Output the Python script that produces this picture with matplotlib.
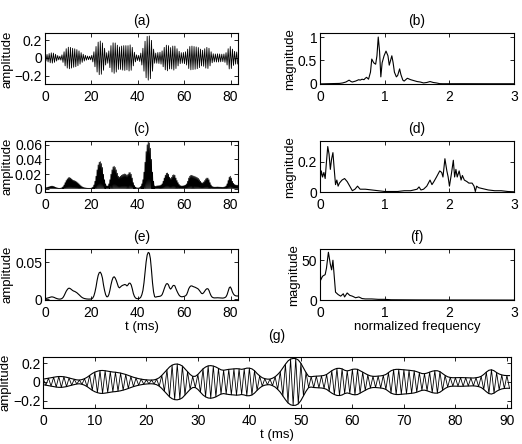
import numpy as np
import matplotlib
matplotlib.use('Agg')
import matplotlib.pyplot as plt

plt.rcParams['font.family'] = ['Liberation Sans', 'DejaVu Sans']
plt.rcParams['xtick.direction'] = 'in'
plt.rcParams['ytick.direction'] = 'in'
plt.rcParams['xtick.top'] = True
plt.rcParams['ytick.right'] = True
plt.rcParams['xtick.major.size'] = 3
plt.rcParams['ytick.major.size'] = 3
plt.rcParams['axes.linewidth'] = 0.8

# envelope of the signal, read from (g), one value every 0.5 ms (0 .. 90.5 ms)
env = [0.03, 0.035, 0.04, 0.045, 0.05, 0.055, 0.058, 0.058, 0.055, 0.05,
       0.042, 0.035, 0.028, 0.022, 0.02, 0.025, 0.035, 0.05, 0.07, 0.09,
       0.105, 0.115, 0.122, 0.123, 0.12, 0.115, 0.11, 0.106, 0.104, 0.1,
       0.095, 0.088, 0.08, 0.07, 0.06, 0.05, 0.042, 0.035, 0.03, 0.025,
       0.022, 0.02, 0.02, 0.022, 0.03, 0.045, 0.07, 0.1, 0.13, 0.16,
       0.18, 0.19, 0.192, 0.185, 0.17, 0.14, 0.11, 0.08, 0.06, 0.06,
       0.08, 0.11, 0.14, 0.16, 0.172, 0.175, 0.17, 0.16, 0.145, 0.13,
       0.125, 0.13, 0.135, 0.138, 0.14, 0.142, 0.14, 0.135, 0.14, 0.148,
       0.148, 0.14, 0.12, 0.09, 0.065, 0.045, 0.035, 0.03, 0.03, 0.04,
       0.055, 0.08, 0.11, 0.15, 0.19, 0.225, 0.245, 0.252, 0.25, 0.235,
       0.2, 0.15, 0.1, 0.06, 0.055, 0.06, 0.062, 0.063, 0.065, 0.07,
       0.08, 0.1, 0.12, 0.135, 0.145, 0.146, 0.14, 0.125, 0.118, 0.125,
       0.135, 0.138, 0.135, 0.12, 0.105, 0.09, 0.075, 0.065, 0.06, 0.06,
       0.062, 0.065, 0.07, 0.08, 0.1, 0.12, 0.13, 0.135, 0.135, 0.132,
       0.13, 0.128, 0.125, 0.122, 0.118, 0.11, 0.1, 0.09, 0.088, 0.095,
       0.105, 0.115, 0.12, 0.12, 0.11, 0.09, 0.07, 0.055, 0.048, 0.045,
       0.045, 0.046, 0.047, 0.046, 0.045, 0.044, 0.043, 0.042, 0.045, 0.05,
       0.06, 0.08, 0.105, 0.125, 0.13, 0.12, 0.1, 0.085, 0.075, 0.07,
       0.068, 0.068]

# half period of the carrier: 0.5 ms in (g); panels a/c/e use a shorter time unit
half_g = 0.5
half_left = 0.459

# spectrum of the signal (b)
fb = [0, 0.3, 0.35, 0.4, 0.45, 0.48, 0.5, 0.55, 0.6, 0.62, 0.65, 0.68, 0.7, 0.72,
      0.75, 0.78, 0.8, 0.83, 0.86, 0.88, 0.9, 0.92, 0.94, 0.96, 0.99, 1.02, 1.05,
      1.07, 1.09, 1.11, 1.13, 1.15, 1.18, 1.2, 1.23, 1.25, 1.28, 1.3, 1.35, 1.4,
      1.45, 1.5, 1.55, 1.6, 1.65, 1.7, 1.75, 1.8, 1.85, 1.9, 2.2, 2.6, 3.0]
mb = [0, 0.01, 0.02, 0.04, 0.08, 0.05, 0.04, 0.06, 0.09, 0.08, 0.1, 0.09, 0.12, 0.14,
      0.1, 0.25, 0.53, 0.45, 0.42, 0.6, 1.0, 0.7, 0.15, 0.45, 0.6, 0.7, 0.6,
      0.4, 0.5, 0.6, 0.45, 0.25, 0.15, 0.18, 0.32, 0.2, 0.08, 0.06, 0.12, 0.09,
      0.07, 0.05, 0.04, 0.02, 0.03, 0.05, 0.03, 0.02, 0.005, 0.003, 0.004, 0.003, 0.003]

# spectrum of the squared signal (d)
fd = [0, 0.02, 0.04, 0.06, 0.08, 0.1, 0.12, 0.14, 0.16, 0.18, 0.2, 0.22, 0.24, 0.26,
      0.28, 0.3, 0.34, 0.38, 0.42, 0.46, 0.5, 0.54, 0.58, 0.62, 0.7, 0.8, 0.9, 1.0,
      1.1, 1.2, 1.3, 1.4, 1.5, 1.53, 1.56, 1.6, 1.65, 1.7, 1.73, 1.76, 1.8, 1.85,
      1.88, 1.9, 1.93, 1.96, 1.98, 2.0, 2.03, 2.06, 2.08, 2.1, 2.12, 2.15, 2.18,
      2.2, 2.23, 2.27, 2.3, 2.35, 2.38, 2.4, 2.42, 2.45, 2.5, 2.55, 2.6, 2.7, 2.8,
      2.9, 3.0]
md = [0.07, 0.14, 0.1, 0.13, 0.09, 0.2, 0.3, 0.25, 0.15, 0.22, 0.26, 0.15, 0.05, 0.08,
      0.04, 0.06, 0.08, 0.09, 0.07, 0.04, 0.01, 0.02, 0.04, 0.02, 0.02, 0.015, 0.01,
      0.005, 0.005, 0.005, 0.01, 0.01, 0.02, 0.035, 0.015, 0.02, 0.04, 0.08, 0.05,
      0.07, 0.1, 0.14, 0.13, 0.1, 0.22, 0.14, 0.1, 0.04, 0.12, 0.21, 0.1, 0.15, 0.1,
      0.14, 0.08, 0.11, 0.08, 0.07, 0.06, 0.06, 0.04, 0.005, 0.04, 0.03, 0.025, 0.02,
      0.015, 0.01, 0.01, 0.005, 0.003]

# spectrum of the smoothed envelope (f)
ff = [0, 0.005, 0.01, 0.04, 0.08, 0.1, 0.13, 0.16, 0.18, 0.2, 0.22, 0.24, 0.28, 0.32,
      0.36, 0.38, 0.42, 0.46, 0.5, 0.55, 0.6, 0.65, 0.7, 0.8, 0.9, 1.0, 1.1, 1.5,
      2.0, 3.0]
mf = [63, 40, 25, 30, 32, 40, 60, 45, 38, 50, 30, 10, 7, 5, 8, 4, 9, 6, 5, 3, 4, 2,
      1.5, 1.5, 1, 1, 0.5, 0.3, 0.2, 0.1]

env = np.array(env)
n = np.arange(len(env))
t = n * half_g
tl = n * half_left
sign = np.where(n % 2 == 0, 1, -1)
sig = env * sign
# squared signal: peaks at env^2, zero between peaks
tl_sq = np.ravel(np.column_stack([tl, tl + half_left / 2]))
sq = np.ravel(np.column_stack([env ** 2, np.zeros_like(env)]))
smooth = env ** 2

fig = plt.figure(figsize=(5.22, 4.44), dpi=100)
lw = 0.8
fs_t = 10
fs_l = 9.5
fs_title = 10

L = [0.086, 0.613]
W = [0.37, 0.372]
B = [0.81, 0.567, 0.324]
H = 0.115

ax_a = fig.add_axes([L[0], B[0], W[0], H])
ax_b = fig.add_axes([L[1], B[0], W[1], H])
ax_c = fig.add_axes([L[0], B[1], W[0], H])
ax_d = fig.add_axes([L[1], B[1], W[1], H])
ax_e = fig.add_axes([L[0], B[2], W[0], H])
ax_f = fig.add_axes([L[1], B[2], W[1], H])
ax_g = fig.add_axes([0.083, 0.081, 0.896, 0.1155])

ax_a.plot(tl, sig, 'k', lw=0.6)
ax_a.set_ylim(-0.3, 0.28)
ax_a.set_yticks([-0.2, 0, 0.2])
ax_a.set_yticklabels(['\u22120.2', '0', '0.2'])
ax_a.set_ylabel('amplitude', fontsize=fs_l, labelpad=1)
ax_a.set_title('(a)', fontsize=fs_title, pad=6)

ax_c.plot(tl_sq, sq, 'k', lw=0.6)
ax_c.set_ylim(-0.005, 0.065)
ax_c.set_yticks([0, 0.02, 0.04, 0.06])
ax_c.set_yticklabels(['0', '0.02', '0.04', '0.06'])
ax_c.set_ylabel('amplitude', fontsize=fs_l, labelpad=1)
ax_c.set_title('(c)', fontsize=fs_title, pad=6)

ax_e.plot(tl, smooth, 'k', lw=lw)
ax_e.set_ylim(-0.001, 0.068)
ax_e.set_yticks([0, 0.05])
ax_e.set_yticklabels(['0', '0.05'])
ax_e.set_ylabel('amplitude', fontsize=fs_l, labelpad=1)
ax_e.set_xlabel('t (ms)', fontsize=fs_l, labelpad=1)
ax_e.set_title('(e)', fontsize=fs_title, pad=6)

for ax in [ax_a, ax_c, ax_e]:
    ax.set_xlim(0, 83.2)
    ax.set_xticks([0, 20, 40, 60, 80])

ax_b.plot(fb, mb, 'k', lw=lw)
ax_b.set_ylim(-0.01, 1.08)
ax_b.set_yticks([0, 0.5, 1])
ax_b.set_yticklabels(['0', '0.5', '1'])
ax_b.set_ylabel('magnitude', fontsize=fs_l, labelpad=1)
ax_b.set_title('(b)', fontsize=fs_title, pad=6)

ax_d.plot(fd, md, 'k', lw=lw)
ax_d.set_ylim(0, 0.335)
ax_d.set_yticks([0, 0.2])
ax_d.set_yticklabels(['0', '0.2'])
ax_d.set_ylabel('magnitude', fontsize=fs_l, labelpad=1)
ax_d.set_title('(d)', fontsize=fs_title, pad=6)

ax_f.plot(ff, mf, 'k', lw=lw)
ax_f.set_ylim(0, 64)
ax_f.set_yticks([0, 50])
ax_f.set_ylabel('magnitude', fontsize=fs_l, labelpad=1)
ax_f.set_xlabel('normalized frequency', fontsize=fs_l, labelpad=1)
ax_f.set_title('(f)', fontsize=fs_title, pad=6)

for ax in [ax_b, ax_d, ax_f]:
    ax.set_xlim(0, 3)
    ax.set_xticks([0, 1, 2, 3])

ax_g.plot(t, sig, 'k', lw=0.6)
ax_g.plot(t, env, 'k', lw=lw)
ax_g.plot(t, -env, 'k', lw=lw)
ax_g.set_xlim(0, 90.8)
ax_g.set_ylim(-0.28, 0.27)
ax_g.set_xticks(np.arange(0, 91, 10))
ax_g.set_yticks([-0.2, 0, 0.2])
ax_g.set_yticklabels(['\u22120.2', '0', '0.2'])
ax_g.set_ylabel('amplitude', fontsize=fs_l, labelpad=1)
ax_g.set_xlabel('t (ms)', fontsize=fs_l, labelpad=1)
ax_g.set_title('(g)', fontsize=fs_title, pad=12)

for ax in fig.axes:
    ax.tick_params(labelsize=fs_t, width=0.6)
    ax.tick_params(axis='x', pad=4)
    ax.tick_params(axis='y', pad=2)

fig.savefig('out.png', dpi=100)
